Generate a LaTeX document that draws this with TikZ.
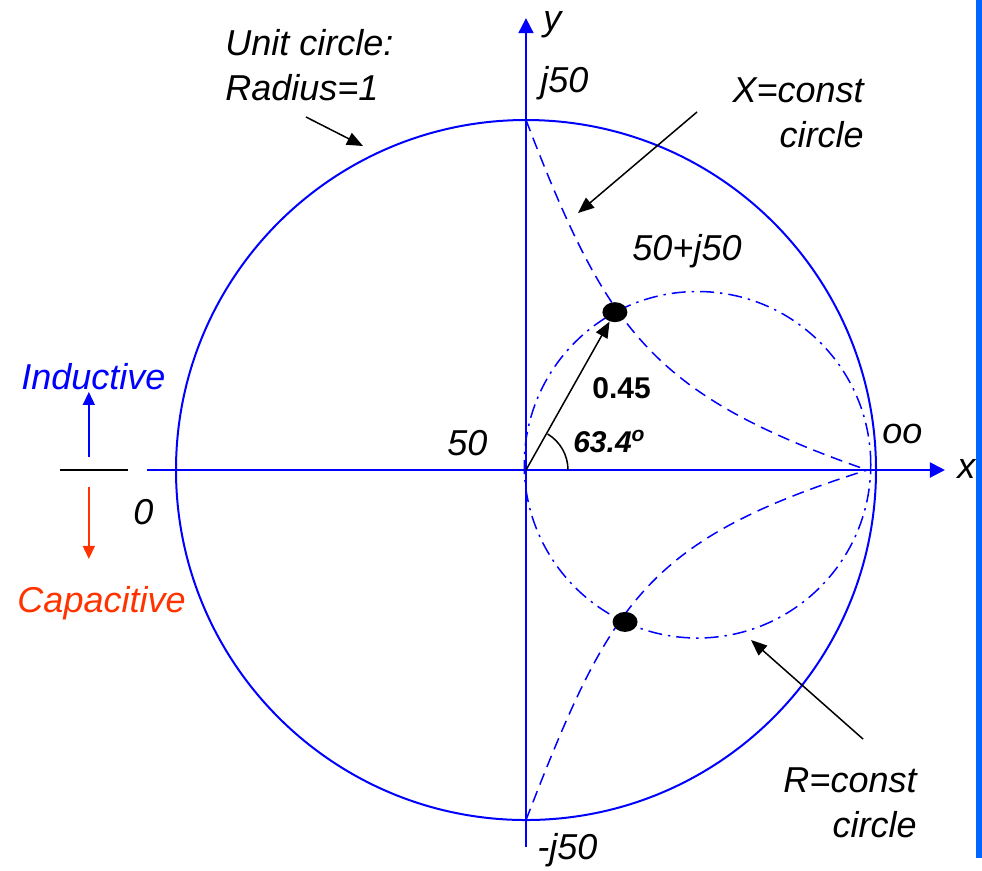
\documentclass[tikz,border=0pt]{standalone}
\usepackage{fontspec}
\setmainfont{Liberation Sans}
\usepackage{tikz}
\usetikzlibrary{arrows.meta,shapes.geometric}
\definecolor{chartblue}{RGB}{0,0,255}
\definecolor{capred}{RGB}{255,51,0}
\definecolor{barblue}{RGB}{0,102,255}

\tikzset{
  lbl/.style={inner sep=0pt, font=\fontsize{18}{22.5}\selectfont\itshape},
  bold lbl/.style={inner sep=0pt, font=\fontsize{15}{18}\selectfont\bfseries},
  axisline/.style={chartblue, line width=1pt, -{Triangle[length=7.5pt,width=7.5pt]}},
  xconst/.style={chartblue, line width=0.75pt, dash pattern=on 6pt off 3.5pt},
  rconst/.style={chartblue, line width=0.75pt, dash pattern=on 7pt off 3pt on 1.2pt off 3pt},
  pointer/.style={black, line width=0.75pt, -{Triangle[length=8pt,width=6.5pt]}},
  zdot/.style={ellipse, fill=black, inner sep=0pt, minimum width=12.5pt, minimum height=10pt}
}

\begin{document}
\begin{tikzpicture}[x=175pt, y=175pt]
    \useasboundingbox (-1.50286,-1.14286) rectangle (1.30286,1.34286);

    % Slide edge
    \fill[barblue] (1.2857,-1.1086) rectangle (1.30286,1.34286);

    % Unit circle and axes
    \coordinate (O) at (0,0);
    \coordinate (top) at (0,1);
    \coordinate (bot) at (0,-1);
    \coordinate (conv) at (0.975,0);
    \draw[chartblue, line width=1pt] (O) circle[radius=1];
    \draw[axisline] (-1.083,0) coordinate (xs) -- (1.197,0) coordinate (xe);
    \draw[axisline] (0,-1.077) coordinate (ys) -- (0,1.291) coordinate (ye);

    % R=const circle
    \draw[rconst] (0.49,0.015) circle[radius=0.495];

    % X=const circles
    \draw[xconst] (top) .. controls (0.231,0.4) and (0.355,0.216) .. (conv);
    \draw[xconst] (bot) .. controls (0.24,-0.38) and (0.34,-0.2) .. (conv);

    % Impedance points
    \node[zdot] (zUp) at (0.254,0.451) {};
    \node[zdot] (zDn) at (0.283,-0.434) {};

    % Reflection coefficient
    \draw[pointer] (O) -- (zUp);
    \draw[line width=0.75pt] (0.12,0) arc[start angle=0, end angle=59, radius=0.12];
    \node[bold lbl, anchor=base west] (lblMag) at (0.1886,0.2057) {0.45};
    \node[bold lbl, anchor=base west] (lblAng) at (0.134,0.0514) {\itshape 63.4\textsuperscript{o}};

    % Axis labels
    \node[lbl, anchor=base west] (lblYax) at (0.0486,1.257) {y};
    \node[lbl, anchor=base west] (lblXax) at (1.231,-0.023) {x};
    \node[lbl, anchor=base west] (lblJp) at (0.04,1.08) {j50};
    \node[lbl, anchor=base west] (lblJm) at (0.0314,-1.114) {-j50};
    \node[lbl, anchor=base west] (lblFifty) at (-0.2257,0.0429) {50};
    \node[lbl, anchor=base west] (lblZero) at (-1.123,-0.157) {0};
    \node[lbl, anchor=base west] (lblInf) at (1.017,0.077) {oo};
    \node[lbl, anchor=base west] (lblZ) at (0.303,0.6) {50+j50};

    % Inductive / capacitive
    \coordinate (refL) at (-1.331,0);
    \coordinate (refR) at (-1.137,0);
    \coordinate (indS) at (-1.249,0.037);
    \coordinate (indE) at (-1.249,0.223);
    \coordinate (capS) at (-1.249,-0.049);
    \coordinate (capE) at (-1.249,-0.254);
    \draw[line width=0.75pt] (refL) -- (refR);
    \draw[chartblue, line width=0.75pt, -{Triangle[length=6.5pt,width=6pt]}] (indS) -- (indE);
    \draw[capred, line width=0.75pt, -{Triangle[length=6.5pt,width=6pt]}] (capS) -- (capE);
    \node[lbl, anchor=base west, chartblue] (lblInd) at (-1.443,0.231) {Inductive};
    \node[lbl, anchor=base west, capred] (lblCap) at (-1.454,-0.406) {Capacitive};

    % Callouts
    \node[lbl, anchor=north west, align=left] (lblUnit) at (-0.86,1.26) {Unit circle:\\Radius=1};
    \node[lbl, anchor=north east, align=right] (lblX) at (0.9657,1.1229) {X=const\\circle};
    \node[lbl, anchor=north east, align=right] (lblR) at (1.117,-0.849) {R=const\\circle};
    \coordinate (ucTail) at (-0.6286,1.0086);
    \coordinate (ucTip) at (-0.4657,0.9257);
    \coordinate (xcTail) at (0.4886,1.0229);
    \coordinate (xcTip) at (0.1486,0.7343);
    \coordinate (rcTail) at (0.9629,-0.7686);
    \coordinate (rcTip) at (0.6429,-0.4857);
    \draw[pointer] (ucTail) -- (ucTip);
    \draw[pointer] (xcTail) -- (xcTip);
    \draw[pointer] (rcTail) -- (rcTip);
\end{tikzpicture}
\end{document}
